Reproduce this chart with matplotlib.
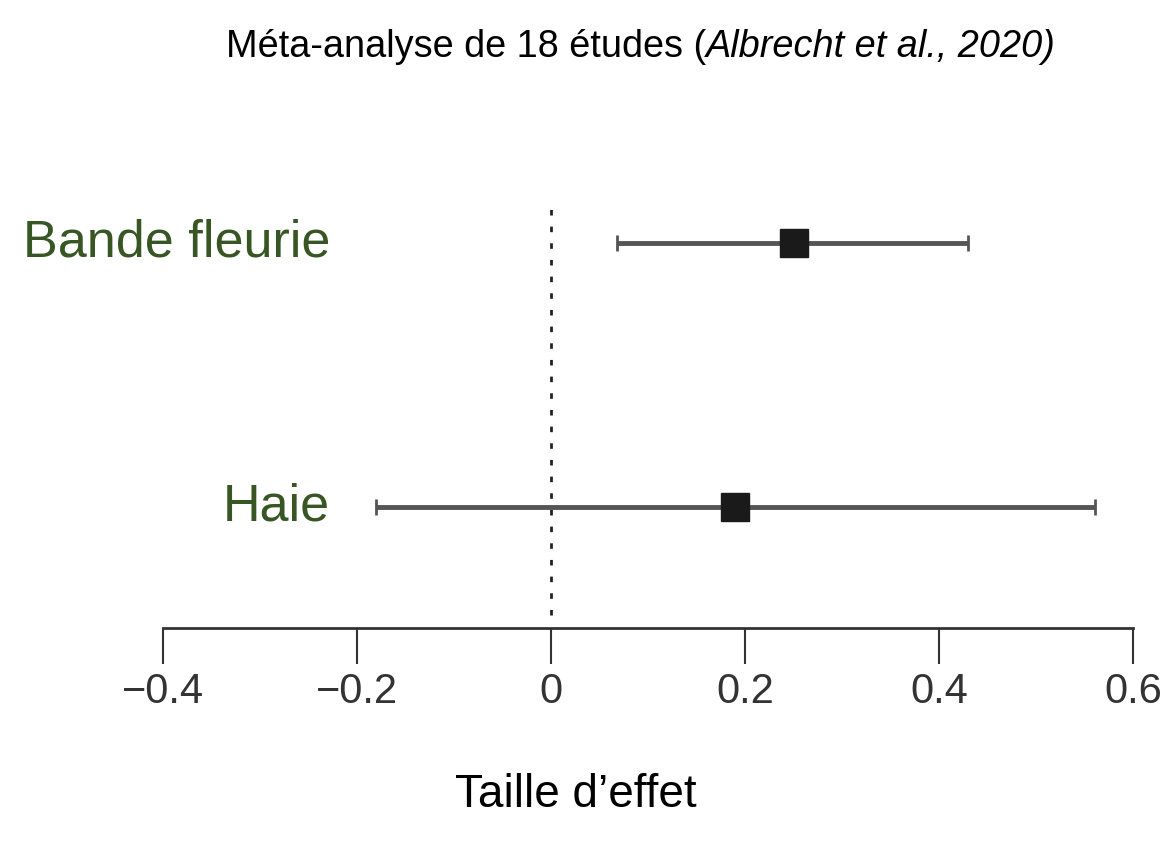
import matplotlib.pyplot as plt
import matplotlib.transforms as mtransforms

# données
groupes = ["Haie", "Bande fleurie"]
effet = [0.19, 0.25]
ic_bas = [-0.18, 0.068]
ic_haut = [0.561, 0.43]
ticks = [-0.4, -0.2, 0, 0.2, 0.4, 0.6]
tick_labels = ["\u22120.4", "\u22120.2", "0", "0.2", "0.4", "0.6"]

vert = "#375623"
W, H = 1169, 844

fig = plt.figure(figsize=(W / 100, H / 100), dpi=100)
ax = fig.add_axes([163 / W, 1 - 628 / H, 970 / W, (628 - 170) / H])

ypos = list(range(len(groupes)))
for y, e, lo, hi in zip(ypos, effet, ic_bas, ic_haut):
    ax.errorbar(e, y, xerr=[[e - lo], [hi - e]], fmt="none", ecolor="#555555",
                elinewidth=3.5, capsize=6, capthick=2, zorder=2)
    ax.plot(e, y, marker="s", markersize=20, color="#1a1a1a", zorder=3)

# ligne de référence en 0
ax.plot([0, 0], [-0.41, 1.14], color="#222222", lw=2, ls=(0, (2, 4)), zorder=1)

ax.set_xlim(-0.4, 0.6)
ax.set_ylim(-0.458, 1.277)
for s in ["top", "left", "right"]:
    ax.spines[s].set_visible(False)
ax.spines["bottom"].set_linewidth(2)
ax.spines["bottom"].set_color("#333333")
ax.set_yticks([])
ax.set_xticks(ticks)
ax.set_xticklabels(tick_labels, family="Liberation Sans", fontsize=30, color="#333333")
ax.tick_params(axis="x", direction="out", length=26, width=1.5, color="#333333", pad=6)

# étiquettes des groupes
trans = mtransforms.blended_transform_factory(fig.transFigure, ax.transData)
for y, g in zip(ypos, groupes):
    ax.text(330 / W, y, g, transform=trans, ha="right", va="center",
            fontsize=37.5, color=vert, family="Liberation Sans", clip_on=False)

# titre
fig.text(706 / W, 1 - 47 / H, "Méta-analyse de 18 études (", ha="right", va="center",
         fontsize=27.3, family="Liberation Sans")
fig.text(706 / W, 1 - 47 / H, "Albrecht et al., 2020)", ha="left", va="center",
         fontsize=27.3, family="Liberation Sans", style="italic")

fig.text(576 / W, 1 - 795 / H, "Taille d\u2019effet", ha="center", va="center",
         fontsize=33, family="Liberation Sans")

fig.savefig("out.png", dpi=100)
